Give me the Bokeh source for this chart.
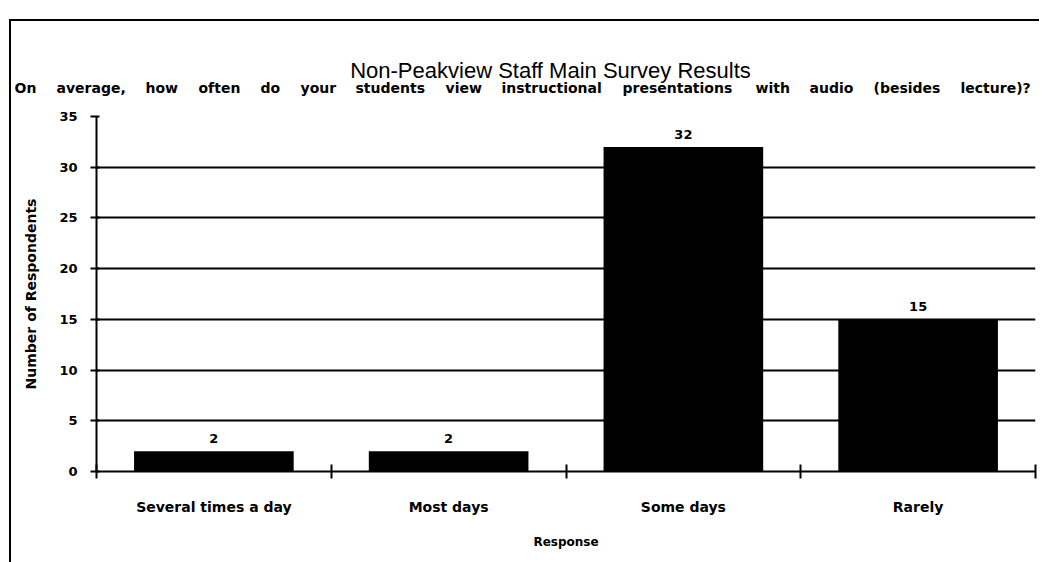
from bokeh.plotting import figure
from bokeh.models import Range1d, FixedTicker, Label, ColumnDataSource
from bokeh.core.properties import value
from bokeh.embed import file_html
from bokeh.resources import INLINE

# ---- data ----
categories = ["Several times a day", "Most days", "Some days", "Rarely"]
counts = [2, 2, 32, 15]
y_ticks = [0, 5, 10, 15, 20, 25, 30, 35]
title_text = "Non-Peakview Staff Main Survey Results"
subtitle_text = "On average, how often do your students view instructional presentations with audio (besides lecture)?"
y_label = "Number of Respondents"
x_label = "Response"

xs = [i + 0.5 for i in range(len(categories))]
bounds = [i for i in range(len(categories) + 1)]

# page layout (Bokeh template: body margin 0)
off_left, off_top = 9, 19          # css margins
bw = 2                             # css border width
canvas_left, canvas_top = off_left + bw, off_top + bw
W = 1030
HEAD_H = 80
main_top = off_top + HEAD_H        # header box (incl. border) is HEAD_H tall
MAIN_H = 562 - main_top
frame_left, frame_top, frame_right, frame_bottom = 96, 116, 1035, 471

# ---- header (title + subtitle); its ranges are page pixels ----
head = figure(width=W, height=HEAD_H, output_backend="svg", toolbar_location=None,
              x_range=Range1d(canvas_left, canvas_left + W),
              y_range=Range1d(canvas_top + HEAD_H, canvas_top),
              x_axis_location=None, y_axis_location=None,
              min_border_left=0, min_border_right=0, min_border_top=0, min_border_bottom=0)
head.grid.visible = False
head.outline_line_color = None
head.background_fill_color = "white"
head.border_fill_color = "white"
head.styles = {"margin-top": f"{off_top}px", "margin-left": f"{off_left}px",
               "border-top": f"{bw}px solid black", "border-left": f"{bw}px solid black"}

head.add_layout(Label(x=550, y=70, text=title_text,
                      text_align="center", text_baseline="middle",
                      text_font="Liberation Sans", text_font_size="22px", text_color="black"))
word_starts = [14, 56, 145, 198, 260, 300, 355, 445, 501, 622, 755, 809, 873, 960]
for w, sx in zip(subtitle_text.split(" "), word_starts):
    head.add_layout(Label(x=sx, y=87, text=w,
                          text_align="left", text_baseline="middle",
                          text_font="DejaVu Sans", text_font_style="bold",
                          text_font_size="14px", text_color="black"))

# ---- main chart ----
p = figure(width=W, height=MAIN_H, output_backend="svg", toolbar_location=None,
           x_range=Range1d(0, len(categories)), y_range=Range1d(0, 35),
           min_border_left=frame_left - canvas_left,
           min_border_right=canvas_left + W - frame_right,
           min_border_top=frame_top - main_top,
           min_border_bottom=main_top + MAIN_H - frame_bottom)
p.styles = {"margin-left": f"{off_left}px", "border-left": f"{bw}px solid black"}
p.outline_line_color = None
p.background_fill_color = "white"
p.border_fill_color = "white"

src = ColumnDataSource(dict(x=xs, top=counts, lab=[str(c) for c in counts]))
p.vbar(x="x", top="top", width=0.68, source=src, fill_color="black", line_color=None)
p.text(x="x", y="top", text="lab", source=src, text_align="center", text_baseline="bottom",
       y_offset=-8, text_font=value("DejaVu Sans"), text_font_style="bold",
       text_font_size="13px", text_color="black")

p.xgrid.grid_line_color = None
p.ygrid.grid_line_color = "black"
p.ygrid.grid_line_width = 2
p.ygrid.ticker = FixedTicker(ticks=y_ticks)

ya = p.yaxis[0]
ya.ticker = FixedTicker(ticks=y_ticks)
ya.axis_line_color = "black"
ya.axis_line_width = 2
ya.major_tick_line_width = 2
ya.major_tick_in = 3
ya.major_tick_out = 6
ya.minor_tick_line_color = None
ya.major_label_standoff = 13
ya.major_label_text_font = "DejaVu Sans"
ya.major_label_text_font_style = "bold"
ya.major_label_text_font_size = "13px"
ya.major_label_text_color = "black"
ya.axis_label = y_label
ya.axis_label_text_font = "DejaVu Sans"
ya.axis_label_text_font_style = "bold"
ya.axis_label_text_font_size = "14px"
ya.axis_label_text_color = "black"
ya.axis_label_standoff = 17

xa = p.xaxis[0]
xa.ticker = FixedTicker(ticks=xs, minor_ticks=bounds)
xa.major_label_overrides = {x: c for x, c in zip(xs, categories)}
xa.axis_line_color = "black"
xa.axis_line_width = 2
xa.major_tick_in = 0
xa.major_tick_out = 0
xa.major_tick_line_color = None
xa.minor_tick_line_color = "black"
xa.minor_tick_line_width = 2
xa.minor_tick_in = 7
xa.minor_tick_out = 7
xa.major_label_standoff = 20
xa.major_label_text_font = "DejaVu Sans"
xa.major_label_text_font_style = "bold"
xa.major_label_text_font_size = "14px"
xa.major_label_text_color = "black"
xa.axis_label = x_label
xa.axis_label_text_font = "DejaVu Sans"
xa.axis_label_text_font_style = "bold"
xa.axis_label_text_font_size = "12px"
xa.axis_label_text_color = "black"
xa.axis_label_standoff = 17

open("out.html", "w").write(file_html([head, p], INLINE))
